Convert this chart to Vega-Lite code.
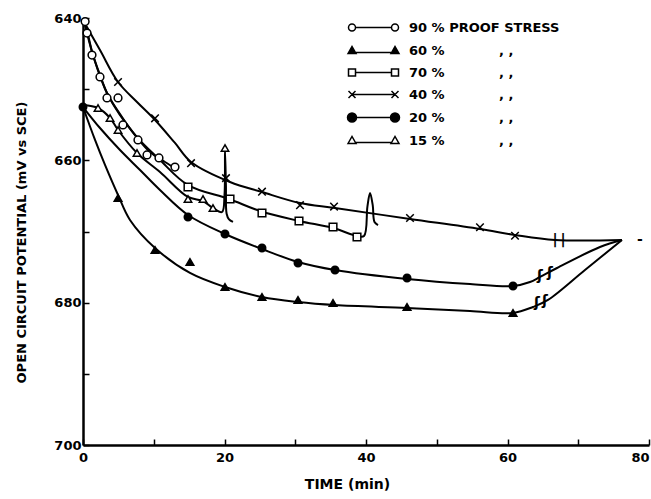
{
  "$schema": "https://vega.github.io/schema/vega-lite/v6.json",
  "width": 566,
  "height": 427,
  "autosize": {"type": "none"},
  "padding": {"left": 83, "top": 18, "right": 2, "bottom": 54},
  "background": "white",
  "config": {"view": {"stroke": null}, "font": "DejaVu Sans"},
  "datasets": {
    "points": [
      {"s": "90 %", "t": 0.3, "v": 640.5},
      {"s": "90 %", "t": 0.57, "v": 642.11},
      {"s": "90 %", "t": 1.27, "v": 645.2},
      {"s": "90 %", "t": 2.4, "v": 648.29},
      {"s": "90 %", "t": 3.39, "v": 651.24},
      {"s": "90 %", "t": 4.95, "v": 651.24},
      {"s": "90 %", "t": 5.65, "v": 655.03},
      {"s": "90 %", "t": 7.77, "v": 657.14},
      {"s": "90 %", "t": 9.05, "v": 659.25},
      {"s": "90 %", "t": 10.74, "v": 659.67},
      {"s": "90 %", "t": 13.0, "v": 660.94},
      {"s": "60 %", "t": 4.95, "v": 665.29},
      {"s": "60 %", "t": 10.18, "v": 672.6},
      {"s": "60 %", "t": 15.12, "v": 674.28},
      {"s": "60 %", "t": 20.07, "v": 677.8},
      {"s": "60 %", "t": 25.3, "v": 679.2},
      {"s": "60 %", "t": 30.39, "v": 679.62},
      {"s": "60 %", "t": 35.34, "v": 680.04},
      {"s": "60 %", "t": 45.8, "v": 680.61},
      {"s": "60 %", "t": 60.78, "v": 681.45},
      {"s": "70 %", "t": 14.84, "v": 663.75},
      {"s": "70 %", "t": 20.78, "v": 665.43},
      {"s": "70 %", "t": 25.3, "v": 667.4},
      {"s": "70 %", "t": 30.53, "v": 668.52},
      {"s": "70 %", "t": 35.34, "v": 669.37},
      {"s": "70 %", "t": 38.73, "v": 670.77},
      {"s": "40 %", "t": 4.95, "v": 649.0},
      {"s": "40 %", "t": 10.18, "v": 654.1},
      {"s": "40 %", "t": 15.27, "v": 660.4},
      {"s": "40 %", "t": 20.21, "v": 662.5},
      {"s": "40 %", "t": 25.3, "v": 664.4},
      {"s": "40 %", "t": 30.67, "v": 666.3},
      {"s": "40 %", "t": 35.48, "v": 666.5},
      {"s": "40 %", "t": 46.22, "v": 668.1},
      {"s": "40 %", "t": 56.11, "v": 669.4},
      {"s": "40 %", "t": 61.06, "v": 670.6},
      {"s": "20 %", "t": 0.0, "v": 652.5},
      {"s": "20 %", "t": 14.84, "v": 667.96},
      {"s": "20 %", "t": 20.07, "v": 670.35},
      {"s": "20 %", "t": 25.3, "v": 672.32},
      {"s": "20 %", "t": 30.39, "v": 674.42},
      {"s": "20 %", "t": 35.62, "v": 675.41},
      {"s": "20 %", "t": 45.8, "v": 676.53},
      {"s": "20 %", "t": 60.78, "v": 677.66},
      {"s": "15 %", "t": 2.12, "v": 652.65},
      {"s": "15 %", "t": 3.82, "v": 654.05},
      {"s": "15 %", "t": 4.95, "v": 655.74},
      {"s": "15 %", "t": 7.63, "v": 658.97},
      {"s": "15 %", "t": 14.84, "v": 665.43},
      {"s": "15 %", "t": 16.96, "v": 665.43},
      {"s": "15 %", "t": 18.37, "v": 666.7},
      {"s": "15 %", "t": 20.07, "v": 658.27}
    ],
    "curves": [
      {"s": "40 %", "t": 0.0, "v": 640.28},
      {"s": "40 %", "t": 2.4, "v": 644.5},
      {"s": "40 %", "t": 4.95, "v": 648.99},
      {"s": "40 %", "t": 7.63, "v": 651.8},
      {"s": "40 %", "t": 10.18, "v": 654.33},
      {"s": "40 %", "t": 13.0, "v": 657.56},
      {"s": "40 %", "t": 15.27, "v": 660.23},
      {"s": "40 %", "t": 20.78, "v": 663.04},
      {"s": "40 %", "t": 25.3, "v": 664.45},
      {"s": "40 %", "t": 30.67, "v": 666.0},
      {"s": "40 %", "t": 35.62, "v": 666.7},
      {"s": "40 %", "t": 46.22, "v": 668.24},
      {"s": "40 %", "t": 56.11, "v": 669.65},
      {"s": "40 %", "t": 61.06, "v": 670.49},
      {"s": "40 %", "t": 66.71, "v": 671.19},
      {"s": "40 %", "t": 76.18, "v": 671.19},
      {"s": "90 %", "t": 0.14, "v": 640.28},
      {"s": "90 %", "t": 0.71, "v": 642.39},
      {"s": "90 %", "t": 1.41, "v": 645.2},
      {"s": "90 %", "t": 2.4, "v": 648.01},
      {"s": "90 %", "t": 3.53, "v": 650.82},
      {"s": "90 %", "t": 5.51, "v": 653.91},
      {"s": "90 %", "t": 7.35, "v": 656.44},
      {"s": "90 %", "t": 9.47, "v": 658.83},
      {"s": "90 %", "t": 11.59, "v": 660.23},
      {"s": "90 %", "t": 13.43, "v": 661.36},
      {"s": "70 %", "t": 0.14, "v": 640.28},
      {"s": "70 %", "t": 1.41, "v": 645.2},
      {"s": "70 %", "t": 3.53, "v": 650.82},
      {"s": "70 %", "t": 7.35, "v": 656.44},
      {"s": "70 %", "t": 10.88, "v": 659.95},
      {"s": "70 %", "t": 14.84, "v": 663.47},
      {"s": "70 %", "t": 20.64, "v": 665.43},
      {"s": "70 %", "t": 25.02, "v": 667.12},
      {"s": "70 %", "t": 30.53, "v": 668.52},
      {"s": "70 %", "t": 35.34, "v": 669.51},
      {"s": "70 %", "t": 38.73, "v": 670.63},
      {"s": "70 %", "t": 39.72, "v": 670.63},
      {"s": "70 %", "t": 40.2, "v": 666.5},
      {"s": "70 %", "t": 40.57, "v": 664.59},
      {"s": "70 %", "t": 40.95, "v": 666.3},
      {"s": "70 %", "t": 41.2, "v": 668.66},
      {"s": "70 %", "t": 41.7, "v": 669.09},
      {"s": "15 %", "t": 0.0, "v": 652.22},
      {"s": "15 %", "t": 2.12, "v": 652.65},
      {"s": "15 %", "t": 3.82, "v": 654.05},
      {"s": "15 %", "t": 4.95, "v": 655.74},
      {"s": "15 %", "t": 7.63, "v": 658.97},
      {"s": "15 %", "t": 10.88, "v": 661.64},
      {"s": "15 %", "t": 14.84, "v": 665.15},
      {"s": "15 %", "t": 16.96, "v": 665.71},
      {"s": "15 %", "t": 18.37, "v": 666.7},
      {"s": "15 %", "t": 19.65, "v": 667.26},
      {"s": "15 %", "t": 20.0, "v": 664.87},
      {"s": "15 %", "t": 20.07, "v": 658.55},
      {"s": "15 %", "t": 20.2, "v": 663.47},
      {"s": "15 %", "t": 20.3, "v": 667.5},
      {"s": "15 %", "t": 20.64, "v": 668.3},
      {"s": "15 %", "t": 21.2, "v": 668.66},
      {"s": "20 %", "t": 0.0, "v": 652.51},
      {"s": "20 %", "t": 2.4, "v": 655.46},
      {"s": "20 %", "t": 5.23, "v": 658.55},
      {"s": "20 %", "t": 8.06, "v": 661.36},
      {"s": "20 %", "t": 10.88, "v": 664.17},
      {"s": "20 %", "t": 14.84, "v": 667.68},
      {"s": "20 %", "t": 20.07, "v": 670.35},
      {"s": "20 %", "t": 25.3, "v": 672.46},
      {"s": "20 %", "t": 30.39, "v": 674.28},
      {"s": "20 %", "t": 35.62, "v": 675.41},
      {"s": "20 %", "t": 45.8, "v": 676.67},
      {"s": "20 %", "t": 54.7, "v": 677.38},
      {"s": "20 %", "t": 60.78, "v": 677.66},
      {"s": "20 %", "t": 63.18, "v": 677.1},
      {"s": "20 %", "t": 64.59, "v": 676.39},
      {"s": "20 %", "t": 67.0, "v": 675.13},
      {"s": "20 %", "t": 73.07, "v": 672.18},
      {"s": "20 %", "t": 76.18, "v": 671.19},
      {"s": "60 %", "t": 0.0, "v": 652.51},
      {"s": "60 %", "t": 1.7, "v": 657.14},
      {"s": "60 %", "t": 3.11, "v": 660.65},
      {"s": "60 %", "t": 4.95, "v": 664.87},
      {"s": "60 %", "t": 6.64, "v": 668.38},
      {"s": "60 %", "t": 10.18, "v": 672.32},
      {"s": "60 %", "t": 15.12, "v": 675.83},
      {"s": "60 %", "t": 20.07, "v": 677.8},
      {"s": "60 %", "t": 25.3, "v": 679.2},
      {"s": "60 %", "t": 30.39, "v": 679.9},
      {"s": "60 %", "t": 35.62, "v": 680.33},
      {"s": "60 %", "t": 45.8, "v": 680.75},
      {"s": "60 %", "t": 54.7, "v": 681.17},
      {"s": "60 %", "t": 60.78, "v": 681.45},
      {"s": "60 %", "t": 63.6, "v": 680.61},
      {"s": "60 %", "t": 65.72, "v": 679.62},
      {"s": "60 %", "t": 70.95, "v": 675.41},
      {"s": "60 %", "t": 76.18, "v": 671.19}
    ],
    "marks": [
      {"t": 66.71, "v": 671.19, "txt": "|"},
      {"t": 67.84, "v": 671.19, "txt": "|"},
      {"t": 64.59, "v": 676.2, "txt": "ʃ"},
      {"t": 66.01, "v": 675.8, "txt": "ʃ"},
      {"t": 64.17, "v": 680.1, "txt": "ʃ"},
      {"t": 65.3, "v": 679.8, "txt": "ʃ"},
      {"t": 78.73, "v": 671.19, "txt": "-"}
    ]
  },
  "encoding": {
    "x": {
      "field": "t", "type": "quantitative",
      "scale": {"domain": [0, 80], "nice": false, "zero": false},
      "axis": {
        "title": "TIME (min)",
        "values": [0, 10, 20, 30, 40, 50, 60, 70, 80],
        "labelExpr": "datum.value % 20 == 0 ? datum.label : ''",
        "labelAlign": {"condition": {"test": "datum.value == 80", "value": "right"}, "value": "center"},
        "grid": false,
        "domainColor": "black", "domainWidth": 2.5,
        "tickColor": "black", "tickWidth": 1.5, "tickSize": -6,
        "labelPadding": 12, "labelFlush": false, "labelOverlap": false,
        "labelFont": "DejaVu Sans", "labelFontWeight": "bold", "labelFontSize": 13, "labelColor": "black",
        "titleFont": "DejaVu Sans", "titleFontWeight": "bold", "titleFontSize": 14, "titleColor": "black",
        "titleX": 264, "titleY": 39, "titleAlign": "center", "titleBaseline": "middle"
      }
    },
    "y": {
      "field": "v", "type": "quantitative",
      "scale": {"domain": [640, 700], "reverse": true, "nice": false, "zero": false},
      "axis": {
        "title": "OPEN CIRCUIT POTENTIAL (mV vs SCE)",
        "values": [640, 650, 660, 670, 680, 690, 700],
        "labelExpr": "datum.value % 20 == 0 ? datum.label : ''",
        "grid": false,
        "domainColor": "black", "domainWidth": 2.5,
        "tickColor": "black", "tickWidth": 1.5, "tickSize": -6,
        "labelPadding": 8, "labelFlush": false, "labelOverlap": false,
        "labelFont": "DejaVu Sans", "labelFontWeight": "bold", "labelFontSize": 13, "labelColor": "black",
        "titleFont": "DejaVu Sans", "titleFontWeight": "bold", "titleFontSize": 13, "titleColor": "black",
        "titleX": -62, "titleY": 224, "titleAngle": 270, "titleAlign": "center", "titleBaseline": "middle"
      }
    }
  },
  "layer": [
    {
      "data": {"name": "curves"},
      "mark": {"type": "line", "interpolate": "catmull-rom", "color": "black", "strokeWidth": 2},
      "encoding": {"detail": {"field": "s", "type": "nominal"}}
    },
    {
      "data": {"name": "marks"},
      "mark": {"type": "text", "fill": "black", "fontSize": 14, "fontWeight": "bold", "font": "DejaVu Sans", "align": "center", "baseline": "middle"},
      "encoding": {"text": {"field": "txt", "type": "nominal"}}
    },
    {
      "data": {"name": "points"},
      "mark": {"type": "point", "filled": true, "stroke": "black", "strokeWidth": 1.5, "opacity": 1},
      "encoding": {
        "shape": {"field": "s", "type": "nominal", "legend": null,
          "scale": {"domain": ["90 %", "60 %", "70 %", "40 %", "20 %", "15 %"],
                    "range": ["circle", "triangle-up", "square", "M-1,-1L1,1M-1,1L1,-1", "circle", "triangle-up"]}},
        "fill": {"field": "s", "type": "nominal", "legend": null,
          "scale": {"domain": ["90 %", "60 %", "70 %", "40 %", "20 %", "15 %"],
                    "range": ["white", "black", "white", "black", "black", "white"]}},
        "size": {"field": "s", "type": "nominal", "legend": null,
          "scale": {"domain": ["90 %", "60 %", "70 %", "40 %", "20 %", "15 %"],
                    "range": [60, 55, 45, 60, 140, 55]}}
      }
    },
    {
      "data": {"name": "points"},
      "transform": [{"filter": "datum.t > 1000"}],
      "mark": {"type": "point", "filled": true, "strokeWidth": 1.5, "size": 100, "opacity": 1},
      "encoding": {
        "shape": {"field": "s", "type": "nominal",
          "scale": {"domain": ["90 %", "60 %", "70 %", "40 %", "20 %", "15 %"],
                    "range": [
                      "M-5,0a0.7,0.7 0 1,0 1.4,0a0.7,0.7 0 1,0 -1.4,0ZM-3.6,0L3.6,0M3.6,0a0.7,0.7 0 1,0 1.4,0a0.7,0.7 0 1,0 -1.4,0Z",
                      "M-5.1,0.6L-4.3,-0.8L-3.5,0.6ZM-3.5,0.4L3.5,0.4M3.5,0.6L4.3,-0.8L5.1,0.6Z",
                      "M-5,-0.7H-3.6V0.7H-5ZM-3.6,0H3.6M3.6,-0.7H5V0.7H3.6Z",
                      "M-5,-0.7L-3.6,0.7M-5,0.7L-3.6,-0.7M-4.3,0H4.3M3.6,-0.7L5,0.7M3.6,0.7L5,-0.7",
                      "M-5.2,0a0.9,0.9 0 1,0 1.8,0a0.9,0.9 0 1,0 -1.8,0ZM-3.4,0L3.4,0M3.4,0a0.9,0.9 0 1,0 1.8,0a0.9,0.9 0 1,0 -1.8,0Z",
                      "M-5.1,0.6L-4.3,-0.8L-3.5,0.6ZM-3.5,0.4L3.5,0.4M3.5,0.6L4.3,-0.8L5.1,0.6Z"
                    ]},
          "legend": {
            "orient": "none", "legendX": 284, "legendY": 3, "title": null, "padding": 0,
            "symbolSize": 100, "symbolStrokeWidth": 1.5, "symbolStrokeColor": "black", "symbolOpacity": 1,
            "labelOffset": 29, "labelFont": "DejaVu Sans", "labelFontWeight": "bold", "labelFontSize": 13, "labelColor": "black",
            "rowPadding": 8,
            "labelExpr": "datum.label == '90 %' ? '90 %\u00a0PROOF STRESS' : datum.label + '\u00a0\u00a0\u00a0\u00a0\u00a0\u00a0\u00a0\u00a0\u00a0\u00a0\u00a0\u00a0, ,'"
          }},
        "fill": {"field": "s", "type": "nominal",
          "scale": {"domain": ["90 %", "60 %", "70 %", "40 %", "20 %", "15 %"],
                    "range": ["white", "black", "white", "black", "black", "white"]},
          "legend": {
            "orient": "none", "legendX": 284, "legendY": 3, "title": null, "padding": 0,
            "symbolSize": 100, "symbolStrokeWidth": 1.5, "symbolStrokeColor": "black", "symbolOpacity": 1,
            "labelOffset": 29, "labelFont": "DejaVu Sans", "labelFontWeight": "bold", "labelFontSize": 13, "labelColor": "black",
            "rowPadding": 8,
            "labelExpr": "datum.label == '90 %' ? '90 %\u00a0PROOF STRESS' : datum.label + '\u00a0\u00a0\u00a0\u00a0\u00a0\u00a0\u00a0\u00a0\u00a0\u00a0\u00a0\u00a0, ,'"
          }},
        "stroke": {"field": "s", "type": "nominal",
          "scale": {"domain": ["90 %", "60 %", "70 %", "40 %", "20 %", "15 %"],
                    "range": ["black", "black", "black", "black", "black", "black"]},
          "legend": {
            "orient": "none", "legendX": 284, "legendY": 3, "title": null, "padding": 0,
            "symbolSize": 100, "symbolStrokeWidth": 1.5, "symbolStrokeColor": "black", "symbolOpacity": 1,
            "labelOffset": 29, "labelFont": "DejaVu Sans", "labelFontWeight": "bold", "labelFontSize": 13, "labelColor": "black",
            "rowPadding": 8,
            "labelExpr": "datum.label == '90 %' ? '90 %\u00a0PROOF STRESS' : datum.label + '\u00a0\u00a0\u00a0\u00a0\u00a0\u00a0\u00a0\u00a0\u00a0\u00a0\u00a0\u00a0, ,'"
          }}
      }
    }
  ],
  "resolve": {"scale": {"shape": "independent", "fill": "independent", "size": "independent", "stroke": "independent"}}
}
